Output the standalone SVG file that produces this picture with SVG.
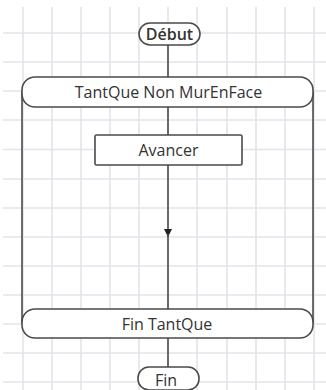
<svg xmlns="http://www.w3.org/2000/svg" width="326" height="390" viewBox="0 0 326 390">
<defs>
<style>
.grid line{stroke:#e3e3ea;stroke-width:1.6}
.shape{fill:#ffffff;stroke:#4a4a4a;stroke-width:1.6}
.conn{fill:none;stroke:#4a4a4a;stroke-width:1.6}
.lbl{font-family:"Open Sans","DejaVu Sans",sans-serif;font-size:16px;fill:#333333;text-anchor:middle;dominant-baseline:central}
</style>
<marker id="arr" viewBox="0 0 10 10" refX="10" refY="5" markerWidth="8" markerHeight="8" markerUnits="userSpaceOnUse" orient="auto">
<path d="M0,0 L10,5 L0,10 z" fill="#222222"/>
</marker>
</defs>
<rect width="326" height="390" fill="#ffffff"/>
<g class="grid">
<line x1="23" y1="7" x2="23" y2="390"/>
<line x1="52" y1="7" x2="52" y2="390"/>
<line x1="81" y1="7" x2="81" y2="390"/>
<line x1="110" y1="7" x2="110" y2="390"/>
<line x1="139" y1="7" x2="139" y2="390"/>
<line x1="168" y1="7" x2="168" y2="390"/>
<line x1="197" y1="7" x2="197" y2="390"/>
<line x1="227" y1="7" x2="227" y2="390"/>
<line x1="256" y1="7" x2="256" y2="390"/>
<line x1="285" y1="7" x2="285" y2="390"/>
<line x1="314" y1="7" x2="314" y2="390"/>
<line x1="3" y1="33" x2="326" y2="33"/>
<line x1="3" y1="62" x2="326" y2="62"/>
<line x1="3" y1="91" x2="326" y2="91"/>
<line x1="3" y1="120" x2="326" y2="120"/>
<line x1="3" y1="149.5" x2="326" y2="149.5"/>
<line x1="3" y1="179" x2="326" y2="179"/>
<line x1="3" y1="208" x2="326" y2="208"/>
<line x1="3" y1="237" x2="326" y2="237"/>
<line x1="3" y1="266" x2="326" y2="266"/>
<line x1="3" y1="295" x2="326" y2="295"/>
<line x1="3" y1="324" x2="326" y2="324"/>
<line x1="3" y1="353" x2="326" y2="353"/>
<line x1="3" y1="382" x2="326" y2="382"/>
</g>
<g id="connectors">
<line class="conn" x1="168" y1="45" x2="168" y2="77"/>
<line class="conn" x1="168" y1="107" x2="168" y2="135"/>
<line class="conn" x1="168" y1="165" x2="168" y2="237" marker-end="url(#arr)"/>
<line class="conn" x1="168" y1="234" x2="168" y2="309"/>
<line class="conn" x1="22" y1="92" x2="22" y2="323"/>
<line class="conn" x1="313" y1="92" x2="313" y2="323"/>
<line class="conn" x1="168" y1="338" x2="168" y2="367"/>
</g>
<g id="debut">
<rect class="shape" x="139" y="23" width="61" height="22" rx="11" ry="11"/>
<text class="lbl" x="169.5" y="34" font-weight="600">Début</text>
</g>
<g id="tantque">
<rect class="shape" x="22" y="77" width="291" height="30" rx="13" ry="13"/>
<text class="lbl" x="168.5" y="92">TantQue Non MurEnFace</text>
</g>
<g id="avancer">
<rect class="shape" x="95" y="135" width="147" height="30" rx="1.5" ry="1.5"/>
<text class="lbl" x="168.5" y="150">Avancer</text>
</g>
<g id="fintantque">
<rect class="shape" x="22" y="309" width="291" height="29" rx="13" ry="13"/>
<text class="lbl" x="167" y="323.5">Fin TantQue</text>
</g>
<g id="fin">
<rect class="shape" x="138" y="367" width="61" height="23" rx="11" ry="11"/>
<text class="lbl" x="166" y="379.5">Fin</text>
</g>
</svg>
